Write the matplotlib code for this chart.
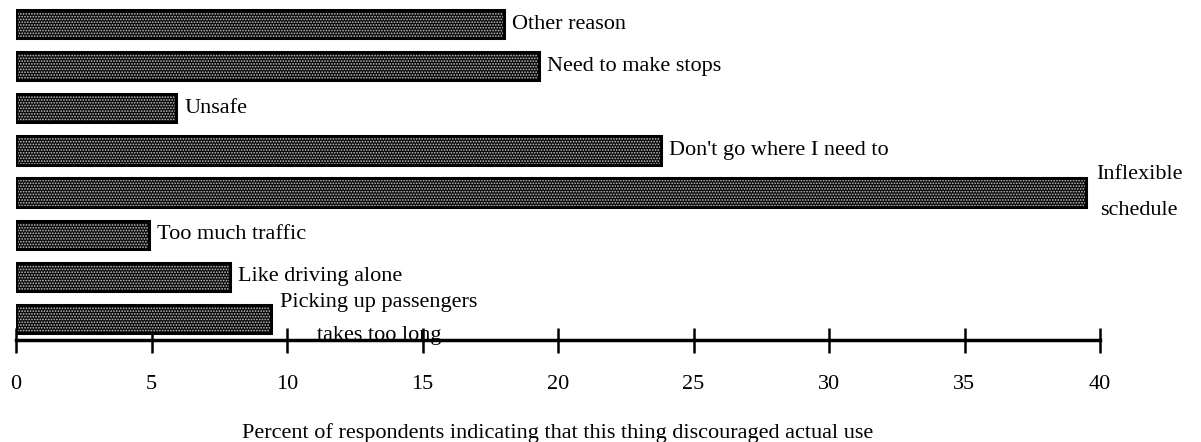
import matplotlib
matplotlib.use("Agg")
import matplotlib.pyplot as plt

# Reasons, listed bottom to top, with the percent of respondents
reasons = [
    "Picking up passengers\ntakes too long",
    "Like driving alone",
    "Too much traffic",
    "Inflexible\nschedule",
    "Don't go where I need to",
    "Unsafe",
    "Need to make stops",
    "Other reason",
]
percents = [9.4, 7.9, 4.9, 39.5, 23.8, 5.9, 19.3, 18.0]
x_ticks = [0, 5, 10, 15, 20, 25, 30, 35, 40]
x_label = "Percent of respondents indicating that this thing discouraged actual use"

plt.rcParams["font.family"] = ["Liberation Serif", "DejaVu Serif"]
plt.rcParams["hatch.linewidth"] = 0.8

fig = plt.figure(figsize=(12.01, 4.42), dpi=100)
ax = fig.add_axes([16 / 1201, 0.2308, (1100 - 16) / 1201, 0.7624])

ypos = list(range(len(reasons)))
bar_h = 0.67

# stippled fill: black base with light dot hatch, then a solid black outline
ax.barh(ypos, percents, height=bar_h, color="#0a0a0a", edgecolor="#c4c4c4",
        hatch="......", linewidth=0, zorder=2)
ax.barh(ypos, percents, height=bar_h, facecolor="none", edgecolor="black",
        linewidth=2.2, zorder=3)

for y, v, name in zip(ypos, percents, reasons):
    if "\n" in name:
        ls = 2.25 if name.startswith("Inflexible") else 2.0
        ax.text(v + 0.35, y, name, ha="left", va="center", fontsize=16,
                multialignment="center", linespacing=ls, zorder=4)
    else:
        ax.text(v + 0.3, y, name, ha="left", va="center", fontsize=16, zorder=4)

ax.set_xlim(0, 40)
ax.set_ylim(-0.5, 7.5)
for side in ("left", "right", "top"):
    ax.spines[side].set_visible(False)
ax.spines["bottom"].set_linewidth(2.5)
ax.set_yticks([])
ax.set_xticks(x_ticks)
ax.set_xticklabels([str(t) for t in x_ticks])
ax.tick_params(axis="x", direction="inout", length=18, width=1.8, labelsize=16,
               pad=16)
ax.set_xlabel(x_label, fontsize=16, labelpad=21)

fig.savefig("out.png", dpi=100)
